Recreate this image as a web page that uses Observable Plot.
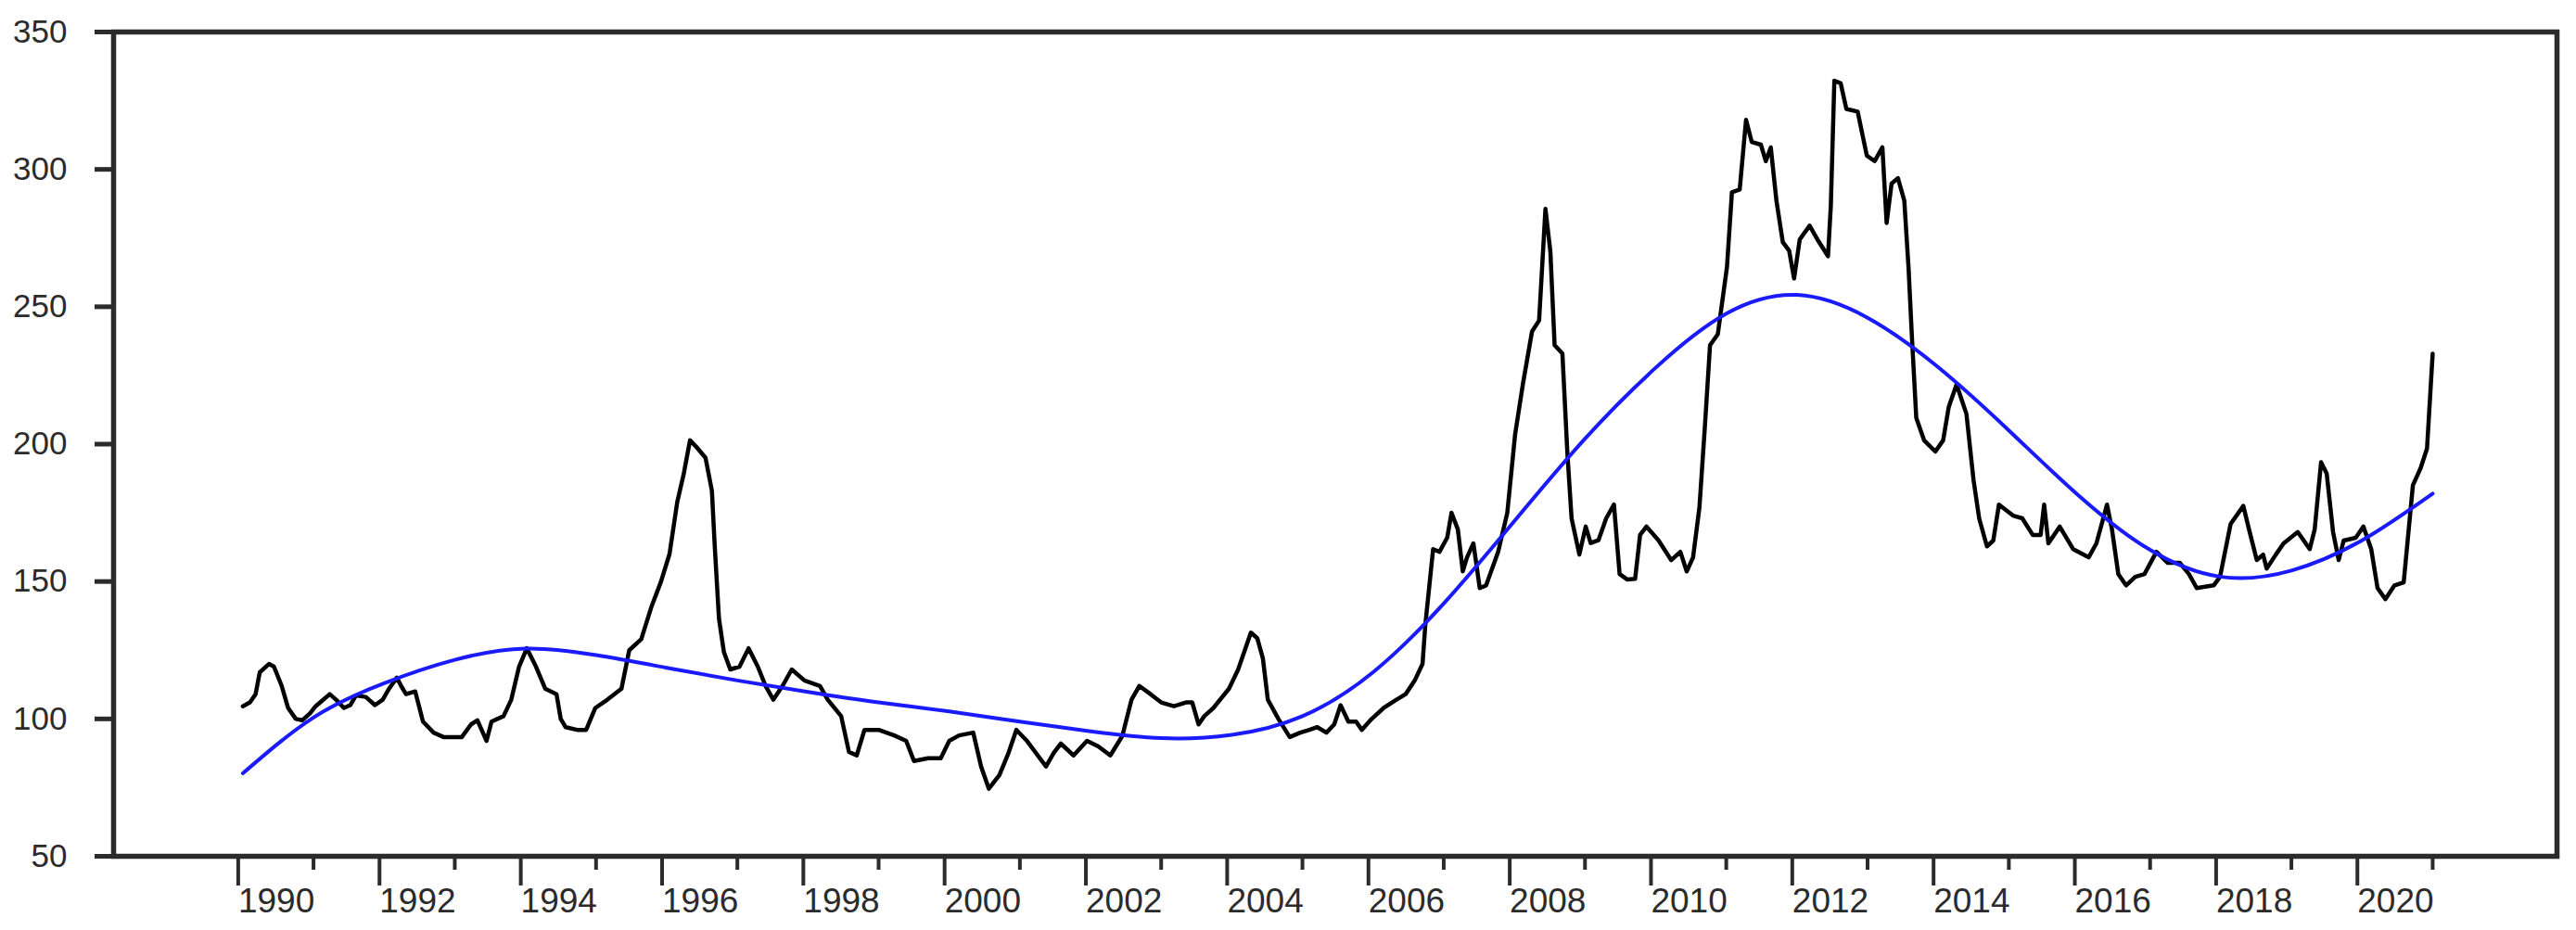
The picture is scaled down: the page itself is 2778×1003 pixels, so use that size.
<!DOCTYPE html>
<html>
<head>
<meta charset="utf-8">
<script src="https://cdn.jsdelivr.net/npm/d3@7"></script>
<script src="https://cdn.jsdelivr.net/npm/@observablehq/plot@0.6"></script>
<style>
  html, body { margin: 0; padding: 0; background: #fff; }
  #chart svg { display: block; }
</style>
</head>
<body>
<div id="chart"></div>
<script>
// Monthly series (decimal year, value)
const priceDates = [
  1990.00,1990.10,1990.18,1990.24,1990.37,1990.44,1990.55,1990.64,1990.75,1990.84,1990.95,
  1991.03,1991.14,1991.23,1991.32,1991.43,1991.52,1991.60,1991.74,1991.87,1991.98,
  1992.07,1992.18,1992.24,1992.31,1992.44,1992.55,1992.70,1992.84,1993.10,1993.23,1993.32,1993.45,1993.52,1993.69,1993.80,1993.91,
  1994.02,1994.15,1994.28,1994.44,1994.50,1994.57,1994.73,1994.86,1994.99,
  1995.16,1995.36,1995.47,1995.64,1995.78,1995.92,
  1996.04,1996.15,1996.24,1996.33,1996.42,1996.55,1996.64,1996.68,1996.74,1996.81,1996.90,
  1997.03,1997.16,1997.29,1997.40,1997.51,1997.64,1997.77,1997.95,
  1998.17,1998.28,1998.47,1998.58,1998.69,1998.80,
  1999.00,1999.22,1999.39,1999.50,1999.70,1999.88,
  2000.00,2000.14,2000.34,2000.45,2000.56,2000.71,2000.84,2000.95,
  2001.10,2001.37,2001.48,2001.58,2001.76,2001.95,
  2002.11,2002.28,2002.45,2002.58,2002.69,2002.85,
  2003.00,2003.18,2003.35,2003.44,2003.53,2003.61,2003.74,2003.96,
  2004.09,2004.27,2004.36,2004.44,2004.51,2004.66,2004.82,2004.97,
  2005.10,2005.21,2005.34,2005.45,2005.54,2005.65,2005.76,2005.84,2005.98,
  2006.15,2006.33,2006.46,2006.59,2006.70,2006.74,2006.85,2006.94,
  2007.05,2007.11,2007.20,2007.27,2007.33,2007.42,2007.51,2007.60,2007.77,2007.90,
  2008.01,2008.12,2008.25,2008.35,2008.44,2008.51,2008.57,2008.68,2008.75,2008.81,2008.92,
  2009.01,2009.08,2009.19,2009.30,2009.41,2009.49,2009.60,2009.71,2009.78,2009.87,
  2010.04,2010.22,2010.35,2010.44,2010.53,2010.62,2010.70,2010.77,2010.88,
  2011.01,2011.08,2011.19,2011.28,2011.36,2011.49,2011.56,2011.63,2011.71,2011.80,2011.89,2011.96,
  2012.04,2012.18,2012.29,2012.44,2012.48,2012.53,2012.62,2012.70,2012.86,2012.99,
  2013.10,2013.21,2013.27,2013.34,2013.43,2013.52,2013.58,2013.63,2013.69,2013.80,2013.96,
  2014.07,2014.15,2014.26,2014.40,2014.50,2014.58,2014.69,2014.78,2014.86,
  2015.06,2015.19,2015.34,2015.45,2015.50,2015.56,2015.72,2015.91,
  2016.13,2016.24,2016.39,2016.46,2016.55,2016.66,2016.79,2016.92,
  2017.09,2017.25,2017.42,2017.55,2017.66,2017.90,2017.99,
  2018.14,2018.32,2018.40,2018.51,2018.60,2018.65,2018.78,2018.89,
  2019.09,2019.26,2019.33,2019.42,2019.50,2019.59,2019.67,2019.74,2019.91,
  2020.02,2020.13,2020.22,2020.33,2020.46,2020.59,2020.72,2020.83,2020.92,2021.00
];
const priceValues = [
  104.6,106,109,117,120,119,112,104,100,99.5,102,
  104.6,107,109,107,104,105,108.5,108,105,107,
  111,115,112,109,110,99,95,93.4,93.4,98,99.5,92,99,101,107,119,
  125.7,119,111,109,100,97,96,96,104,
  107,111,125,129,140.5,150,
  160,179,189,201.4,199,195,183,163,136.5,124.3,118,
  119,125.7,119,112,107,112,118,114,
  112,107,101,88,86.7,96,
  96,94,92,84.7,85.7,85.7,
  92,94,95,82.7,74.6,79.6,87.7,96,
  92,82.7,87.7,91,86.7,92,
  90,86.7,93.8,107,112,109,
  106,104.6,106,106,98,101,104,111,
  118,131.4,129.4,122,107,100,93.4,95,
  96,97,95,98,105,99,99,96,100,
  104,107,109,114,120,134.4,161.8,160.8,
  166,175,169,153.7,158.8,163.9,147.6,148.6,160.8,175,
  203.4,221.7,241,245,285.6,270,236,233,197,173,159.8,
  170,164,165,173,178,152.7,150.7,151,167,170,
  165,157.8,160.8,153.7,158.8,177,207.5,236,240,
  264.5,291.7,292.7,318,310,309,303,308,288.6,273.5,270.4,260.3,
  274.5,279.5,274.5,268.4,286.7,332.3,331.3,322,321,305,
  303,308,280.5,294.8,296.8,288.6,264.3,238,209.5,201.4,197.3,
  201.4,213.6,221.7,211,187,173,162.8,164.9,178,
  174,173,166.9,166.9,178,163.9,170,161.8,
  158.8,163.9,178,169,152.7,148.6,151.7,152.7,
  160.8,156.8,156.8,152.7,147.6,148.6,151.7,
  171,177.5,169,157.8,159.8,154.7,159.8,163.9,
  168,161.8,169,193.4,189.3,168,157.8,164.9,165.9,
  170,161.8,147.6,143.6,148.6,149.7,185,191.3,198.4,232.9
];

// Smooth trend (blue), read at each January from the reference
const trendDates  = [1990,1991,1992,1993,1994,1995,1996,1997,1998,1999,2000,2001,2002,2003,2004,2005,2006,2007,2008,2009,2010,2011,2012,2013,2014,2015,2016,2017,2018,2019,2020,2021];
const trendValues = [80.2,100.5,113,121.5,125.6,123.2,118.6,114,109.8,106,102.7,99,95.5,93,94.2,101,117,142,172,202,227.8,247.5,254.3,246,228,205,181,161.5,151.7,154,165,182];

const yTicks = [50, 100, 150, 200, 250, 300, 350];
const majorYears = [1990,1992,1994,1996,1998,2000,2002,2004,2006,2008,2010,2012,2014,2016,2018,2020];
const minorYears = [1991,1993,1995,1997,1999,2001,2003,2005,2007,2009,2011,2013,2015,2017,2019,2021];

const price = priceDates.map((t, i) => ({t, v: priceValues[i]}));
const trend = trendDates.map((t, i) => ({t, v: trendValues[i]}));

const axisColor = "#2b2b2b";

const chart = Plot.plot({
  width: 2778,
  height: 1003,
  marginLeft: 122,
  marginRight: 21,
  marginTop: 34,
  marginBottom: 80,
  style: {background: "#fff", color: axisColor, fontFamily: "'Liberation Sans', Arial, sans-serif"},
  x: {domain: [1988.17, 2022.76]},
  y: {domain: [50, 350]},
  marks: [
    Plot.line(price, {x: "t", y: "v", stroke: "#000", strokeWidth: 4.5, strokeLinejoin: "round"}),
    Plot.line(trend, {x: "t", y: "v", stroke: "#1a1aff", strokeWidth: 4, curve: "natural"}),
    Plot.frame({stroke: axisColor, strokeWidth: 5.5}),
    Plot.axisY(yTicks, {tickSize: 20, tickPadding: 30, fontSize: 35, strokeWidth: 5, label: null, tickFormat: d => String(d)}),
    Plot.axisX(majorYears, {tickSize: 32, tickPadding: 2, fontSize: 37, strokeWidth: 4, label: null, textAnchor: "start", dx: -5, tickFormat: d => String(d)}),
    Plot.axisX(minorYears, {tickSize: 15, strokeWidth: 4, label: null, tickFormat: () => ""})
  ]
});

document.getElementById("chart").appendChild(chart);
</script>
</body>
</html>
